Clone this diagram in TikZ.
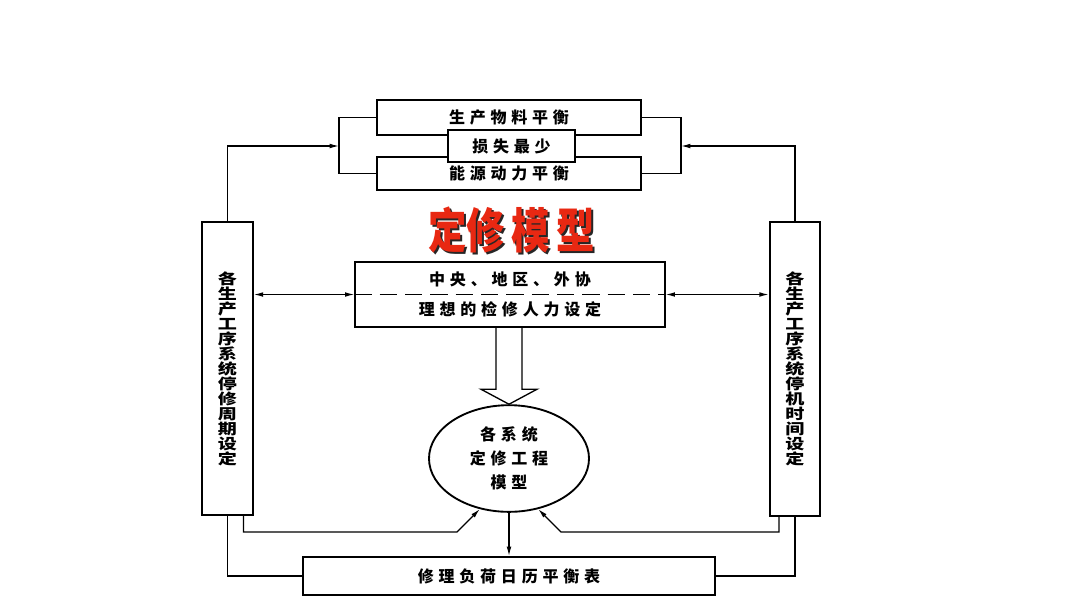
\documentclass[tikz,border=0pt]{standalone}
\usepackage{fontspec}
\usepackage{tikz}
\usetikzlibrary{positioning,shapes.geometric,arrows.meta}
\newfontfamily\cjk[LetterSpace=30]{Noto Sans CJK SC}
\newfontfamily\cjkv[FakeStretch=1.3]{Noto Sans CJK SC}
\newfontfamily\cjkt{Noto Sans CJK SC}
\definecolor{titlered}{RGB}{232,40,18}

\tikzset{
  box/.style={draw, line width=1.4pt, fill=white, inner sep=0pt,
    font=\cjk\bfseries\fontsize{12}{18}\selectfont},
  vbox/.style={box, align=center, minimum width=38pt, minimum height=220pt,
    font=\cjkv\bfseries\fontsize{11}{11.25}\selectfont},
  link/.style={line width=0.9pt},
  arrowto/.style={-{Latex[length=7pt,width=3.5pt]}},
  twoway/.style={{Latex[length=7pt,width=3.5pt]}-{Latex[length=7pt,width=3.5pt]}},
}

\begin{document}
\begin{tikzpicture}[x=0.75pt,y=-0.75pt]
\useasboundingbox (0,0) rectangle (1080,608);

% Balance boxes at the top
\node[box, minimum width=198pt, minimum height=26pt] (mat) at (509,117.5) {生产物料平衡};
\node[box, minimum width=198pt, minimum height=25pt] (energy) at (509,173.5) {能源动力平衡};
\node[box, minimum width=95pt, minimum height=24pt] (loss) at (511.5,146) {损失最少};

% Brackets
\coordinate (lbr) at (339,146);
\coordinate (rbr) at (681,146);
\draw[link] (mat.west) -| (lbr) |- (energy.west);
\draw[link] (mat.east) -| (rbr) |- (energy.east);

% Title
\node[text=black!85, font=\cjkt\bfseries\fontsize{36}{36}\selectfont] (titleshadow) at (513.5,231.5)
  {\scalebox{0.8}[1]{定修\hspace{6pt}模\hspace{6pt}型}};
\node[text=titlered, font=\cjkt\bfseries\fontsize{36}{36}\selectfont] (title) at (511.5,229.5)
  {\scalebox{0.8}[1]{定修\hspace{6pt}模\hspace{6pt}型}};

% Manpower box
\node[box, minimum width=232pt, minimum height=49pt, align=center] (mid) at (510,294.5)
  {中央、地区、外协\\[4.5pt]理想的检修人力设定};
\draw[link, dash pattern=on 13pt off 6pt] (mid.west) -- (mid.east);

% Side boxes
\node[vbox] (lbox) at (227.5,368.5) {各\\生\\产\\工\\序\\系\\统\\停\\修\\周\\期\\设\\定};
\node[vbox] (rbox) at (795,369) {各\\生\\产\\工\\序\\系\\统\\停\\机\\时\\间\\设\\定};

% Model ellipse
\node[box, ellipse, minimum width=120pt, minimum height=80pt, align=center] (ell) at (509,458.5)
  {各系统\\定修工程\\模型};

% Calendar box
\node[box, minimum width=309pt, minimum height=28.5pt] (cal) at (509,576) {修理负荷日历平衡表};

% Hollow arrow
\draw[line width=1pt] (ell.north) -- ++(-28,-15) -- ++(15,0) coordinate (hl) -- (hl |- mid.south);
\draw[line width=1pt] (ell.north) -- ++(28,-15) -- ++(-15,0) coordinate (hr) -- (hr |- mid.south);

% Feeds into the brackets
\draw[link, arrowto] (lbox.north) |- (lbr);
\draw[link, arrowto] (rbox.north) |- (rbr);

% Two-way links
\draw[link, twoway] (lbox.east |- mid.west) -- (mid.west);
\draw[link, twoway] (mid.east) -- (rbox.west |- mid.east);

% Links at the bottom
\coordinate (lk) at (457,532);
\coordinate (rk) at (561,532);
\draw[link, arrowto] ([xshift=12pt]lbox.south) |- (lk) -- (ell.240);
\draw[link, arrowto] ([xshift=-12pt]rbox.south) |- (rk) -- (ell.300);
\draw[link] (lbox.south) |- (cal.west);
\draw[link] (rbox.south) |- (cal.east);
\draw[link, arrowto] (ell.south) -- (cal.north);

\end{tikzpicture}
\end{document}
